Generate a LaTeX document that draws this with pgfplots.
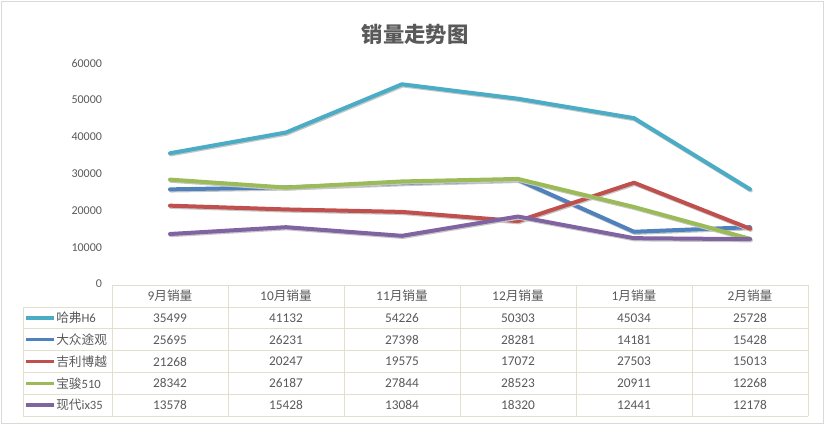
\documentclass[border=0pt]{standalone}
\usepackage{pgfplots}
\pgfplotsset{compat=1.18}
\usepackage{pgfplotstable}
\usepackage{fontspec}
\setmainfont{Carlito}
\newfontfamily\cjk{Noto Sans CJK SC}
\definecolor{h6}{HTML}{4BACC6}
\definecolor{tg}{HTML}{4F81BD}
\definecolor{by}{HTML}{C0504D}
\definecolor{bj}{HTML}{9BBB59}
\definecolor{ix}{HTML}{8064A2}
\definecolor{txt}{HTML}{595959}
\definecolor{tblgrid}{HTML}{E3DFCC}

% monthly sales, one column per model
\pgfplotstableread{
m h6 tg by bj ix
0 35499 25695 21268 28342 13578
1 41132 26231 20247 26187 15428
2 54226 27398 19575 27844 13084
3 50303 28281 17072 28523 18320
4 45034 14181 27503 20911 12441
5 25728 15428 15013 12268 12178
}\sales

\begin{document}
\begin{tikzpicture}
% pixel grid: 1px = 0.75pt, y downwards
\begin{scope}[x=0.75pt,y=-0.75pt]
\path[use as bounding box] (0,0) rectangle (825,424);
\draw[black!15] (1,1) rectangle (823,423);
\node[font=\cjk\bfseries\fontsize{16}{18}\selectfont, text=txt] at (415,34) {销量走势图};
\end{scope}

\begin{axis}[
  at={(84pt,-213pt)}, anchor=south west,
  scale only axis, width=522pt, height=165.75pt,
  xmin=-0.5, xmax=5.5, ymin=0, ymax=60000,
  axis line style={draw=none},
  xtick=\empty,
  ytick={0,10000,...,60000},
  ytick style={draw=none},
  yticklabel style={font=\fontsize{9}{10}\selectfont, text=txt, xshift=-4pt},
  scaled y ticks=false,
  /pgf/number format/1000 sep={},
  /pgf/number format/assume math mode=true,
  clip=false,
  every axis plot/.append style={line width=3pt, line join=round, line cap=round, mark=none,
    preaction={draw=black!22, line width=3pt, transform canvas={xshift=0.6pt, yshift=-0.9pt}}},
]
\addplot[h6] table[x=m, y=h6] {\sales};
\addplot[tg] table[x=m, y=tg] {\sales};
\addplot[by] table[x=m, y=by] {\sales};
\addplot[bj] table[x=m, y=bj] {\sales};
\addplot[ix] table[x=m, y=ix] {\sales};
\end{axis}

% data table under the chart
\begin{scope}[x=0.75pt,y=-0.75pt, every node/.style={text=txt, font=\fontsize{10}{12}\selectfont}]
\draw[tblgrid, line width=0.75pt] (112,285) -- (808,285);
\foreach \y in {307,328.8,350.6,372.4,394.2,416}
  \draw[tblgrid, line width=0.75pt] (23,\y) -- (808,\y);
\draw[tblgrid, line width=0.75pt] (23,307) -- (23,416);
\foreach \i in {0,...,6}
  \draw[tblgrid, line width=0.75pt] ({112+116*\i},285) -- ({112+116*\i},416);
\foreach \lab [count=\i from 0] in {9,10,11,12,1,2}
  \node at ({170+116*\i},296) {\lab{\cjk\fontsize{9.5}{11}\selectfont 月销量}};
\foreach \col/\name [count=\r from 0] in {h6/{{\cjk 哈弗}H6}, tg/{\cjk 大众途观}, by/{\cjk 吉利博越}, bj/{{\cjk 宝骏}510}, ix/{{\cjk 现代}ix35}} {
  \draw[\col, line width=2.6pt] (26,{317.9+21.8*\r}) -- (54,{317.9+21.8*\r});
  \node[anchor=west, inner sep=0pt, font=\fontsize{9.5}{11}\selectfont] at (56,{317.9+21.8*\r}) {\name};
  \foreach \i in {0,...,5} {
    \pgfplotstablegetelem{\i}{\col}\of\sales
    \node at ({170+116*\i},{317.9+21.8*\r}) {\pgfplotsretval};
  }
}
\end{scope}
\end{tikzpicture}
\end{document}
